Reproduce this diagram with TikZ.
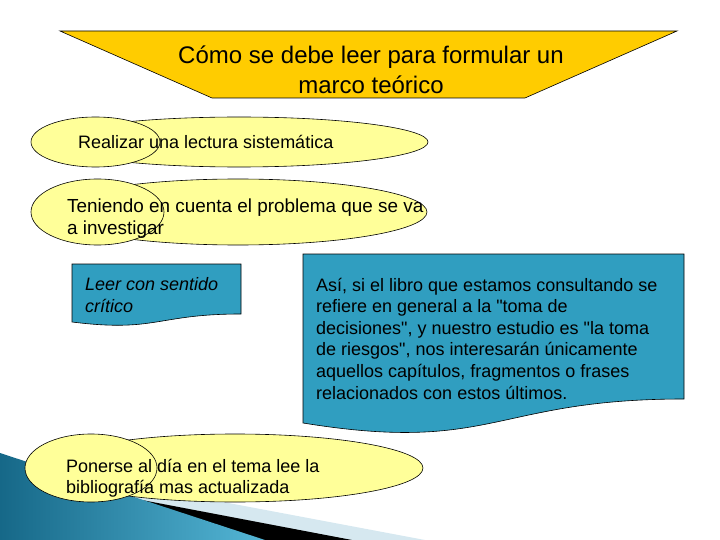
\documentclass[tikz,border=0pt]{standalone}
\usepackage{fontspec}
\setmainfont{Liberation Sans}[Ligatures=TeXOff]
\usetikzlibrary{shapes.geometric}
\definecolor{bannergold}{RGB}{255,204,0}
\definecolor{paleyellow}{RGB}{255,255,153}
\definecolor{docblue}{RGB}{48,158,192}
\definecolor{sweepdark}{RGB}{22,104,136}
\definecolor{sweeplight}{RGB}{84,182,214}
\definecolor{paleband}{RGB}{214,232,240}

\tikzset{
  bubble/.style={ellipse,draw=black,fill=paleyellow,inner sep=0pt,line width=0.6pt},
  body/.style={font=\fontsize{18}{22}\selectfont,anchor=base west,inner sep=0pt,align=left}
}

\begin{document}
\begin{tikzpicture}[x=1pt,y=-1pt]
        \useasboundingbox (0,0) rectangle (720,540);

        % corner sweep
        \fill[paleband] (0,460) -- (425,540) -- (0,540) -- cycle;
        \fill[black] (0,473) -- (352,540) -- (0,540) -- cycle;
        \shade[left color=sweepdark,right color=sweeplight] (0,453) -- (265,540) -- (0,540) -- cycle;

        % title banner (anchors sit on the last line)
        \filldraw[fill=bannergold,draw=black,line width=0.6pt]
          (60,31) -- (677,31) -- (525,98) -- (212,98) -- cycle;
        \node[font=\fontsize{24}{30}\selectfont,align=center,anchor=base,inner sep=0pt]
          (title) at (371,94) {Cómo se debe leer para formular un\\marco teórico};

        % first ellipse
        \node[bubble,minimum width=378pt,minimum height=50pt] (realizar) at (239,142) {};
        \node[bubble,minimum width=129pt,minimum height=50pt] (realizarcap) at (95.5,142) {};
        \node[body] (realizartxt) at (78,148.5) {Realizar una lectura sistemática};

        % second ellipse
        \node[bubble,minimum width=378pt,minimum height=66pt] (teniendo) at (238,212) {};
        \node[bubble,minimum width=133pt,minimum height=66pt] (teniendocap) at (97.5,212) {};
        \node[body,font=\fontsize{18.9}{22}\selectfont] (teniendotxt) at (67,234) {Teniendo en cuenta el problema que se va\\a investigar};

        % document shapes
        \filldraw[fill=docblue,draw=black,line width=0.6pt]
          (72,264) -- (241,264) -- (241,314)
          .. controls (156.5,314) and (156.5,332.6) .. (72,322) -- cycle;
        \node[body,font=\fontsize{18}{21.5}\selectfont\itshape] (criticotxt) at (85,312) {Leer con sentido\\crítico};

        \filldraw[fill=docblue,draw=black,line width=0.6pt]
          (303,254) -- (684,254) -- (684,399)
          .. controls (493.5,399) and (493.5,454) .. (303,423) -- cycle;
        \node[body,font=\fontsize{18}{21.6}\selectfont] (asitxt) at (316,399)
          {Así, si el libro que estamos consultando se\\
           refiere en general a la "toma de\\
           decisiones", y nuestro estudio es "la toma\\
           de riesgos", nos interesarán únicamente\\
           aquellos capítulos, fragmentos o frases\\
           relacionados con estos últimos.};

        % last ellipse
        \node[bubble,minimum width=376pt,minimum height=68pt] (ponerse) at (235,468) {};
        \node[bubble,minimum width=132pt,minimum height=68pt] (ponersecap) at (91,468) {};
        \node[body,font=\fontsize{18}{21}\selectfont] (ponersetxt) at (66,493) {Ponerse al día en el tema lee la\\bibliografía mas actualizada};
    \end{tikzpicture}
\end{document}
